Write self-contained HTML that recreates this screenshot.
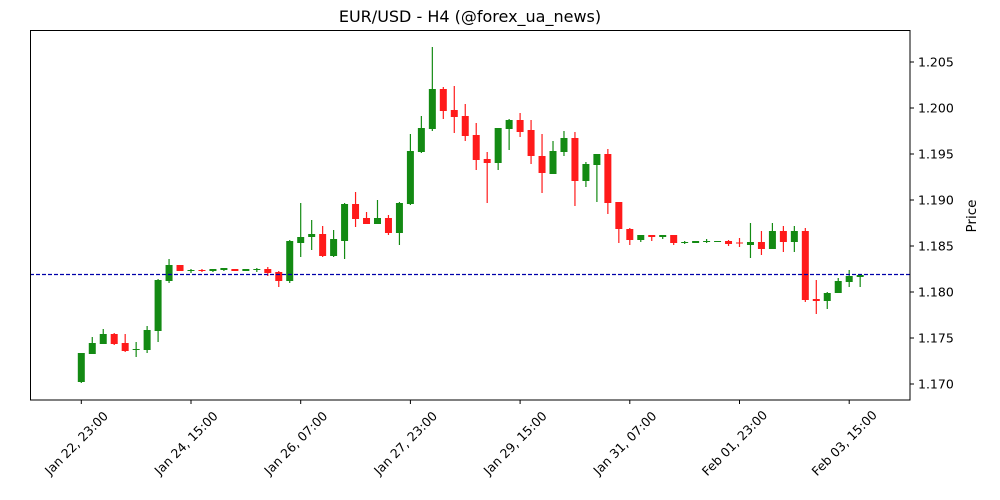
<!DOCTYPE html>
<html><head><meta charset="utf-8"><style>
body{margin:0;background:#fff;}
svg{display:block;font-family:"DejaVu Sans","Liberation Sans",sans-serif;}
</style></head><body>
<svg id="s" width="1000" height="500" xmlns="http://www.w3.org/2000/svg">
<rect width="1000" height="500" fill="#fff"/>
<text x="470" y="22" font-size="16" text-anchor="middle">EUR/USD - H4 (@forex_ua_news)</text>
<g id="c"></g>
<line x1="30" y1="274.5" x2="910" y2="274.5" stroke="#0000aa" stroke-width="1.2" stroke-dasharray="4,2"/>
<rect x="30.5" y="30.5" width="879.5" height="369.5" fill="none" stroke="#000" stroke-width="1"/>
<g id="t" font-size="13"></g>
<text transform="translate(976,216) rotate(-90)" font-size="13.5" text-anchor="middle">Price</text>
</svg>
<script>
var d=[
['g',353,382,353,383],['g',343,354,337,354],['g',334,344,329,344],['r',334,344,333,345],['r',343,351,334,352],
['g',349,350,342,357],['g',330,350,326,353],['g',280,331,279,342],['g',265,281,259,283],['r',265,271,265,271],
['g',270,271,269,273],['r',270,271,269,272],['g',269,271,269,272],['g',268,270,268,271],['r',269,271,269,271],
['g',269,271,269,271],['g',269,270,268,272],['r',269,273,267,276],['r',272,281,271,287],['g',241,281,240,283],
['g',237,243,203,257],['g',234,237,220,250],['r',234,256,226,257],['g',239,256,230,257],['g',204,241,203,259],
['r',204,219,192,227],['r',218,224,212,224],['g',218,224,200,224],['r',218,233,215,235],['g',203,233,202,245],
['g',151,204,134,205],['g',128,152,116,153],['g',89,129,47,131],['r',89,111,87,119],['r',110,117,86,133],
['r',116,136,104,141],['r',135,160,123,170],['r',159,163,152,203],['g',128,163,128,170],['g',120,129,119,150],
['r',120,132,113,137],['r',130,156,120,164],['r',156,173,134,193],['g',151,174,141,174],['g',138,152,131,156],
['r',138,181,132,206],['g',164,181,162,187],['g',154,165,154,202],['r',154,203,149,214],['r',202,229,202,243],
['r',229,240,228,245],['g',235,240,235,242],['r',235,237,235,241],['g',235,237,235,239],['r',235,243,235,245],
['g',242,243,241,244],['g',241,243,241,243],['g',241,242,239,243],['g',241,242,241,242],['r',241,244,240,246],
['r',242.5,243.5,238,247],['g',242,245,223,258],['r',242,249,231,255],['g',231,249,223,249],['r',231,242,226,252],
['g',231,242,226,252],['r',231,300,228,302],['r',299,301,280,314],['g',293,301,292,309],['g',281,293,278,293],
['g',276,282,270,287],['g',275,277,274,287]];
var h='';
d.forEach(function(c,i){var x=81.3+10.97*i,col=c[0]=='g'?'#138a13':'#ff1a1a';
h+='<line x1="'+x+'" y1="'+c[3]+'" x2="'+x+'" y2="'+c[4]+'" stroke="'+col+'" stroke-width="1.2"/>';
h+='<rect x="'+(x-3.5)+'" y="'+c[1]+'" width="7" height="'+Math.max(1,c[2]-c[1])+'" fill="'+col+'"/>';});
document.getElementById('c').innerHTML=h;
var t='';
for(var k=0;k<8;k++){var y=384-46*k;t+='<line x1="910" y1="'+y+'" x2="914" y2="'+y+'" stroke="#000"/><text x="918" y="'+(y+4.5)+'" font-size="12.5">'+(1.17+0.005*k).toFixed(3)+'</text>';}
var xl=['Jan 22, 23:00','Jan 24, 15:00','Jan 26, 07:00','Jan 27, 23:00','Jan 29, 15:00','Jan 31, 07:00','Feb 01, 23:00','Feb 03, 15:00'];
xl.forEach(function(s,k){var x=81.3+109.7*k;t+='<line x1="'+x+'" y1="400" x2="'+x+'" y2="404" stroke="#000"/><text transform="translate('+(x-5)+',443) rotate(-45)" text-anchor="middle" y="4.5" font-size="12.5">'+s+'</text>';});
document.getElementById('t').innerHTML=t;
</script>
</body></html>
